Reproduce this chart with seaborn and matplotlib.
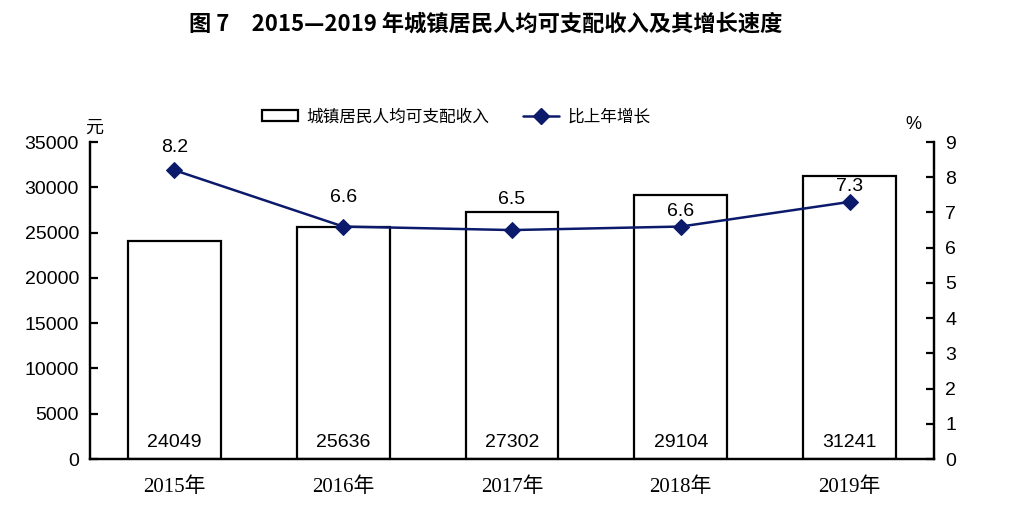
import numpy as np
import pandas as pd
import seaborn as sns
import matplotlib.pyplot as plt
from matplotlib.patches import Patch
from matplotlib.lines import Line2D

years = ["2015年", "2016年", "2017年", "2018年", "2019年"]
income = [24049, 25636, 27302, 29104, 31241]
growth = [8.2, 6.6, 6.5, 6.6, 7.3]

sns.set_style("white")
plt.rcParams["font.family"] = ["Liberation Sans", "Noto Sans CJK SC", "DejaVu Sans"]
plt.rcParams["text.color"] = "black"
plt.rcParams["xtick.color"] = "black"
plt.rcParams["ytick.color"] = "black"

line_color = "#0c1a6b"
df = pd.DataFrame({"year": years, "income": income, "growth": growth})

fig = plt.figure(figsize=(10.3, 5.24), dpi=100)
ax = fig.add_axes([0.0874, 0.124, 0.8194, 0.605])

sns.barplot(data=df, x="year", y="income", color="white", edgecolor="black",
            linewidth=1.6, width=0.55, ax=ax, saturation=1)
ax.set_ylim(0, 35000)
ax.set_xlim(-0.5, 4.5)
ax.set_yticks(range(0, 35001, 5000))
ax.set_xlabel("")
ax.set_ylabel("")

for i, v in enumerate(income):
    ax.annotate(str(v), xy=(i, 0), xytext=(0, 12), textcoords="offset points",
                ha="center", va="center", fontsize=14)

ax2 = ax.twinx()
sns.lineplot(x=np.arange(len(years)), y=growth, color=line_color, marker="D",
             markersize=8, linewidth=1.8, markeredgecolor=line_color, ax=ax2)
ax2.set_ylim(0, 9)
ax2.set_yticks(range(0, 10))
# label offsets (pt) as placed in the original
label_off = [16, 21, 22, 11, 11]
for i, g in enumerate(growth):
    ax2.annotate(f"{g}", xy=(i, g), xytext=(0, label_off[i]), textcoords="offset points",
                 ha="center", va="center", fontsize=14)

for a in (ax, ax2):
    a.spines["top"].set_visible(False)
    for s in ("left", "right", "bottom"):
        a.spines[s].set_linewidth(1.6)
        a.spines[s].set_color("black")

ax.tick_params(axis="y", direction="in", length=6, width=1.6, labelsize=14, pad=8)
ax2.tick_params(axis="y", direction="in", length=6, width=1.6, labelsize=14, pad=8)
ax.tick_params(axis="x", which="major", length=0, pad=13)
ax.set_xticks([0.5, 1.5, 2.5, 3.5], minor=True)
ax.tick_params(axis="x", which="minor", direction="in", length=6, width=1.6)
for lbl in ax.get_xticklabels():
    lbl.set_family(["Liberation Serif", "Noto Sans CJK SC"])
    lbl.set_fontsize(15)

ax.text(0.005, 1.045, "元", transform=ax.transAxes, fontsize=13,
        family=["Noto Sans CJK SC"], ha="center", va="center")
ax2.text(0.975, 1.055, "%", transform=ax2.transAxes, fontsize=13,
         ha="center", va="center")

handles = [Patch(facecolor="white", edgecolor="black", linewidth=1.6),
           Line2D([], [], color=line_color, marker="D", markersize=8, linewidth=1.8)]
fig.legend(handles, ["城镇居民人均可支配收入", "比上年增长"], loc="center",
           bbox_to_anchor=(0.443, 0.777), ncol=2, frameon=False,
           handlelength=2.2, handleheight=0.7, handletextpad=0.5, columnspacing=2.0,
           prop={"family": ["Noto Sans CJK SC"], "size": 12})

fig.text(0.472, 0.955, "图 7　2015—2019 年城镇居民人均可支配收入及其增长速度",
         ha="center", va="center", fontsize=16, fontweight="bold",
         family=["Noto Sans CJK SC", "DejaVu Sans"])

fig.savefig("out.png", dpi=100)
